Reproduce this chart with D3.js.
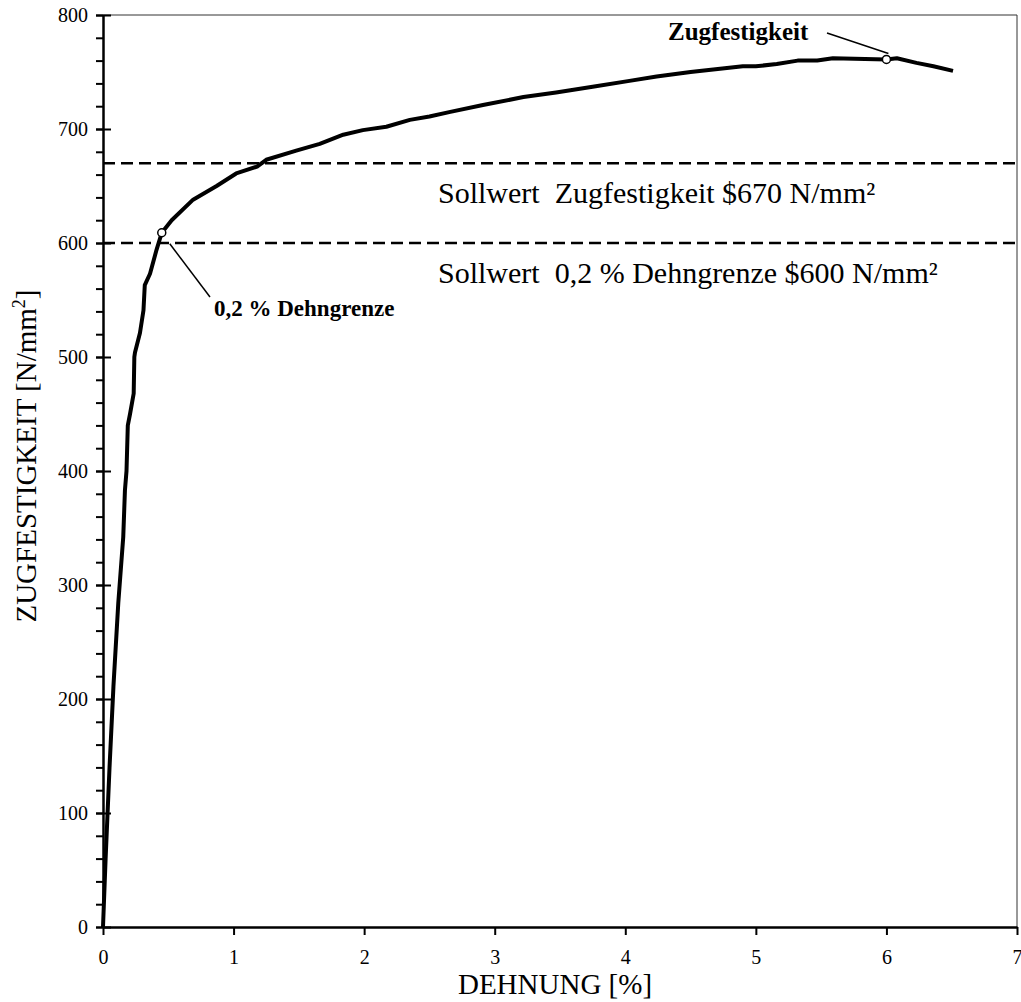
<!DOCTYPE html>
<html lang="de">
<head>
    <meta charset="UTF-8">
    <title>Zugfestigkeit</title>
    <script src="https://cdnjs.cloudflare.com/ajax/libs/d3/7.8.5/d3.min.js"></script>
    <style>
        body { margin: 0; background: #fff; }
        svg { display: block; font-family: "Liberation Serif", "Times New Roman", serif; }
        text { white-space: pre; }
        .axis path, .axis line { stroke: #000; }
        .axis text { font-family: "Liberation Serif", serif; font-size: 20px; fill: #000; }
    </style>
</head>
<body>
<svg id="chart" width="1021" height="1002"></svg>
<script>
    // Dehnung [%]
    let dehnung = [0, 0.02, 0.05, 0.08, 0.117, 0.155, 0.168, 0.18, 0.19, 0.207, 0.235, 0.24, 0.245,
        0.283, 0.31, 0.32, 0.36, 0.41, 0.45, 0.526, 0.69, 0.87, 1.02, 1.18, 1.25, 1.48, 1.66, 1.84,
        1.99, 2.17, 2.35, 2.5, 2.66, 2.91, 3.22, 3.47, 3.75, 4.02, 4.24, 4.5, 4.9, 5.0, 5.16, 5.32,
        5.47, 5.59, 6.0, 6.08, 6.23, 6.36, 6.51];
    // Zugfestigkeit [N/mm²]
    let spannung = [0, 60, 140, 211, 284, 342, 383, 400, 440, 450, 468, 500, 504,
        521, 541, 563, 573, 594, 609, 620, 638, 650, 661, 667, 673, 681, 687, 695,
        699, 702, 708, 711, 715, 721, 728, 732, 737, 742, 746, 750, 755, 755, 757, 760,
        760, 762, 761, 762, 758, 755, 751];

    let xTicks = [0, 1, 2, 3, 4, 5, 6, 7];
    let yTicks = [0, 100, 200, 300, 400, 500, 600, 700, 800];
    let yMinor = d3.range(0, 801, 20);

    let sollwerte = [670, 600];
    let sollTexte = ["Sollwert  Zugfestigkeit $670 N/mm²", "Sollwert  0,2 % Dehngrenze $600 N/mm²"];

    let punktX = [0.45, 6.0];
    let punktY = [609, 761];

    let svg = d3.select("#chart");
    let mLeft = 103, mRight = 1017, mTop = 15, mBottom = 927;

    let x = d3.scaleLinear().domain([0, 7]).range([mLeft, mRight]);
    let y = d3.scaleLinear().domain([0, 800]).range([mBottom, mTop]);

    // Rahmen oben / rechts
    svg.append("line").attr("x1", mLeft).attr("x2", mRight).attr("y1", mTop).attr("y2", mTop)
        .attr("stroke", "#333").attr("stroke-width", 1);
    svg.append("line").attr("x1", mRight).attr("x2", mRight).attr("y1", mTop).attr("y2", mBottom)
        .attr("stroke", "#333").attr("stroke-width", 1);

    // y-Achse
    svg.append("g").attr("class", "axis").attr("transform", `translate(${mLeft},0)`)
        .call(d3.axisLeft(y).tickValues(yMinor).tickSize(7).tickFormat(""))
        .call(g => g.select(".domain").remove())
        .selectAll("line").attr("stroke-width", 2);
    svg.append("g").attr("class", "axis").attr("transform", `translate(${mLeft},0)`)
        .call(d3.axisLeft(y).tickValues(yTicks).tickSize(-8).tickFormat(""))
        .call(g => g.select(".domain").remove())
        .selectAll("line").attr("stroke-width", 2);
    svg.append("g").attr("class", "axis").attr("transform", `translate(${mLeft},0)`)
        .call(d3.axisLeft(y).tickValues(yTicks).tickSize(7).tickPadding(8).tickSizeOuter(0))
        .call(g => g.select(".domain").attr("stroke-width", 2.5))
        .call(g => g.selectAll("line").attr("stroke-width", 2));

    // x-Achse
    svg.append("g").attr("class", "axis").attr("transform", `translate(0,${mBottom})`)
        .call(d3.axisBottom(x).tickValues(xTicks).tickSize(8).tickPadding(15).tickSizeOuter(0)
            .tickFormat(d3.format("d")))
        .call(g => g.select(".domain").attr("stroke-width", 2.5))
        .call(g => g.selectAll("line").attr("stroke-width", 2));

    // Sollwert-Linien
    sollwerte.forEach(function (v, i) {
        svg.append("line")
            .attr("x1", mLeft).attr("x2", mRight)
            .attr("y1", y(v)).attr("y2", y(v))
            .attr("stroke", "#000").attr("stroke-width", 2.5)
            .attr("stroke-dasharray", "12,6");
        svg.append("text")
            .attr("x", 438).attr("y", y(v) + 40)
            .attr("font-size", 30)
            .text(sollTexte[i]);
    });

    // Kurve
    let kurve = dehnung.map((d, i) => [d, spannung[i]]);
    svg.append("path")
        .datum(kurve)
        .attr("fill", "none")
        .attr("stroke", "#000")
        .attr("stroke-width", 4)
        .attr("stroke-linejoin", "round")
        .attr("d", d3.line().x(d => x(d[0])).y(d => y(d[1])));

    // Beschriftungen
    svg.append("line").attr("x1", x(punktX[0]) + 8).attr("y1", y(punktY[0]) + 11)
        .attr("x2", 210).attr("y2", 297).attr("stroke", "#000").attr("stroke-width", 1.5);
    svg.append("text").attr("x", 214).attr("y", 316)
        .attr("font-size", 23).attr("font-weight", "bold")
        .text("0,2 % Dehngrenze");

    svg.append("line").attr("x1", 827).attr("y1", 33)
        .attr("x2", x(punktX[1]) + 2).attr("y2", y(punktY[1]) - 6).attr("stroke", "#000").attr("stroke-width", 1.5);
    svg.append("text").attr("x", 668).attr("y", 40)
        .attr("font-size", 25).attr("font-weight", "bold")
        .text("Zugfestigkeit");

    svg.selectAll("circle.punkt")
        .data(punktX)
        .enter().append("circle")
        .attr("class", "punkt")
        .attr("cx", d => x(d))
        .attr("cy", (d, i) => y(punktY[i]))
        .attr("r", 4)
        .attr("fill", "#fff")
        .attr("stroke", "#000")
        .attr("stroke-width", 1.5);

    // Achsentitel
    svg.append("text").attr("x", 555).attr("y", 994)
        .attr("text-anchor", "middle").attr("font-size", 29)
        .text("DEHNUNG [%]");
    let yt = svg.append("text")
        .attr("transform", "translate(36,456) rotate(-90)")
        .attr("text-anchor", "middle").attr("font-size", 29);
    yt.append("tspan").text("ZUGFESTIGKEIT [N/mm");
    yt.append("tspan").attr("font-size", 18).attr("dy", -11).text("2");
    yt.append("tspan").attr("dy", 11).text("]");
</script>
</body>
</html>
